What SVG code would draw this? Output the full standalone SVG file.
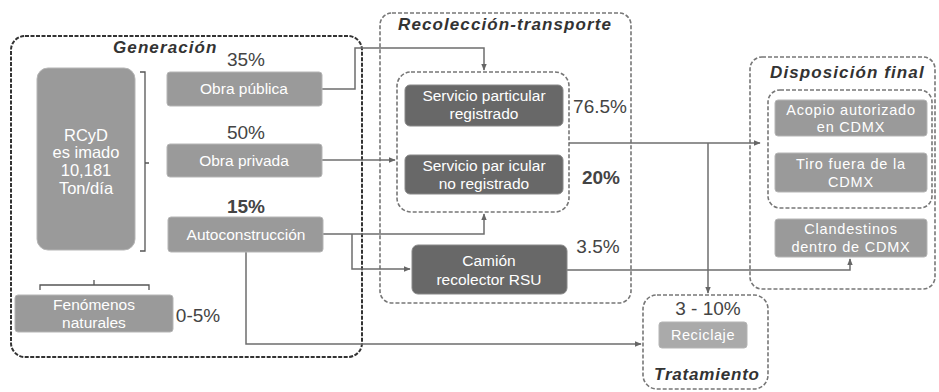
<svg xmlns="http://www.w3.org/2000/svg" width="939" height="392" viewBox="0 0 939 392">
<defs>
<marker id="arr" viewBox="0 0 10 10" refX="9" refY="5" markerWidth="7" markerHeight="7" orient="auto" markerUnits="userSpaceOnUse">
<path d="M0,1 L10,5 L0,9 z" fill="#666"/>
</marker>
<style>
.grp{fill:none;stroke:#777;stroke-width:1.6;stroke-dasharray:4 2}
.gen{fill:none;stroke:#333;stroke-width:2;stroke-dasharray:4 1.5}
.lt{fill:#9a9a9a;stroke:#b5b5b5;stroke-width:1}
.dk{fill:#686868;stroke:#888;stroke-width:1}
.bt{font-family:"Liberation Sans",Arial,sans-serif;font-size:15.5px;fill:#fff;text-anchor:middle}
.ds{font-size:14.5px;letter-spacing:0.8px}
.tt{font-family:"Liberation Sans",Arial,sans-serif;font-size:17px;font-weight:bold;font-style:italic;fill:#333;letter-spacing:1.1px}
.pc{font-family:"Liberation Sans",Arial,sans-serif;font-size:19px;fill:#444;text-anchor:middle}
.pb{font-weight:bold}
.cn{fill:none;stroke:#6e6e6e;stroke-width:1.5}
</style>
</defs>
<rect width="939" height="392" fill="#fff"/>

<g id="group-generacion">
<rect class="gen" x="11" y="36" width="351" height="321" rx="14"/>
<text class="tt" x="113" y="53">Generación</text>
</g>
<g id="group-recoleccion">
<rect class="grp" x="380" y="13" width="251" height="290" rx="12"/>
<text class="tt" x="398" y="30">Recolección-transporte</text>
<rect class="grp" x="397" y="72" width="172" height="140" rx="14"/>
</g>
<g id="group-disposicion">
<rect class="grp" x="750" y="57" width="185" height="232" rx="12"/>
<text class="tt" x="770" y="78">Disposición final</text>
<rect class="grp" x="768" y="90" width="164" height="118" rx="12"/>
</g>
<g id="group-tratamiento">
<rect class="grp" x="643" y="295" width="125" height="94" rx="14"/>
<text class="pc" x="708" y="315">3 - 10%</text>
<text class="tt" x="654" y="380" style="letter-spacing:0.8px">Tratamiento</text>
</g>

<g id="connectors">
<path class="cn" d="M322,89 H355 V48 H484 V70" marker-end="url(#arr)"/>
<path class="cn" d="M322,160 H395" marker-end="url(#arr)"/>
<path class="cn" d="M323,234 H484 V214" marker-end="url(#arr)"/>
<path class="cn" d="M352,234 V269 H410" marker-end="url(#arr)"/>
<path class="cn" d="M246,252 V344 H641" marker-end="url(#arr)"/>
<path class="cn" d="M569,143 H760" marker-end="url(#arr)"/>
<path class="cn" d="M708,143 V293" marker-end="url(#arr)"/>
<path class="cn" d="M567,270 H850 V259" marker-end="url(#arr)"/>
<path class="cn" d="M140,72 H145 V251 H140 M145,163 H149" style="stroke:#555;stroke-width:1.3"/>
<path class="cn" d="M40,290 V285 H149 V290 M94,285 V280" style="stroke:#555;stroke-width:1.3"/>
</g>

<g id="node-rcyd">
<rect class="lt" x="37" y="68" width="98" height="182" rx="11"/>
<text class="bt" x="86" y="141" style="font-size:16.5px">RCyD</text>
<text class="bt" x="86" y="158" style="font-size:16.5px">es imado</text>
<text class="bt" x="86" y="176" style="font-size:16.5px">10,181</text>
<text class="bt" x="86" y="194" style="font-size:16.5px">Ton/día</text>
</g>
<g id="node-obra-publica">
<text class="pc" x="246" y="66">35%</text>
<rect class="lt" x="167" y="72" width="155" height="34" rx="3"/>
<text class="bt" x="244" y="94">Obra pública</text>
</g>
<g id="node-obra-privada">
<text class="pc" x="246" y="139">50%</text>
<rect class="lt" x="167" y="144" width="155" height="33" rx="3"/>
<text class="bt" x="244" y="166">Obra privada</text>
</g>
<g id="node-autoconstruccion">
<text class="pc pb" x="246" y="213">15%</text>
<rect class="lt" x="168" y="217" width="155" height="35" rx="3"/>
<text class="bt" x="246" y="240">Autoconstrucción</text>
</g>
<g id="node-fenomenos">
<rect class="lt" x="15" y="295" width="158" height="37" rx="3"/>
<text class="bt" x="94" y="310">Fenómenos</text>
<text class="bt" x="94" y="328">naturales</text>
<text class="pc" x="198" y="322">0-5%</text>
</g>
<g id="node-servicio-registrado">
<rect class="dk" x="405" y="85" width="158" height="41" rx="5"/>
<text class="bt" x="484" y="101">Servicio particular</text>
<text class="bt" x="484" y="119">registrado</text>
<text class="pc" x="600" y="113">76.5%</text>
</g>
<g id="node-servicio-no-registrado">
<rect class="dk" x="405" y="155" width="158" height="39" rx="5"/>
<text class="bt" x="484" y="171">Servicio par icular</text>
<text class="bt" x="484" y="189">no registrado</text>
<text class="pc pb" x="601" y="184">20%</text>
</g>
<g id="node-camion">
<rect class="dk" x="412" y="245" width="155" height="49" rx="6"/>
<text class="bt" x="489" y="266">Camión</text>
<text class="bt" x="489" y="285">recolector RSU</text>
<text class="pc" x="598" y="253">3.5%</text>
</g>
<g id="node-acopio">
<rect class="lt" x="775" y="100" width="152" height="36" rx="3"/>
<text class="bt ds" x="851" y="115">Acopio autorizado</text>
<text class="bt ds" x="851" y="132">en CDMX</text>
</g>
<g id="node-tiro">
<rect class="lt" x="775" y="153" width="152" height="39" rx="3"/>
<text class="bt ds" x="851" y="169">Tiro fuera de la</text>
<text class="bt ds" x="851" y="187">CDMX</text>
</g>
<g id="node-clandestinos">
<rect class="lt" x="775" y="219" width="152" height="38" rx="3"/>
<text class="bt ds" x="851" y="234">Clandestinos</text>
<text class="bt ds" x="851" y="252">dentro de CDMX</text>
</g>
<g id="node-reciclaje">
<rect class="lt" x="659" y="322" width="88" height="26" rx="3" style="fill:#aaa"/>
<text class="bt" x="703" y="340" style="font-size:14.5px;letter-spacing:0.6px">Reciclaje</text>
</g>
</svg>
